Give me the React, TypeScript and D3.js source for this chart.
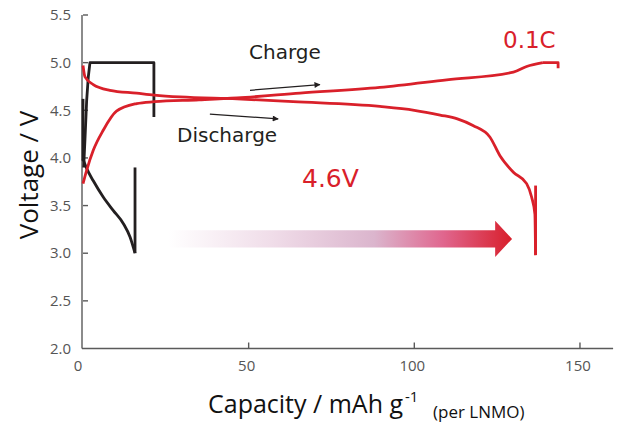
import React from "react";
import * as d3 from "d3";

// capacity (mAh/g) , voltage (V)
const blackRest = [[0, 4.62], [0, 3.97]];
const blackCharge = [[0.2, 3.9], [0.6, 4.2], [1.1, 4.6], [1.6, 4.85], [2.1, 5.0], [21.4, 5.0], [21.4, 4.43]];
const blackDischarge = [[0, 3.99], [1.1, 3.89], [3.1, 3.76], [6.1, 3.59], [9.1, 3.45], [12.2, 3.31], [14.2, 3.17], [15.7, 3.0]];
const blackDischargeEnd = [[15.7, 3.0], [15.7, 3.9]];

const redCharge = [[0, 3.73], [1.1, 3.87], [3.1, 4.08], [6.1, 4.29], [10.1, 4.49], [16.2, 4.57], [21.5, 4.59], [35, 4.61],
  [46.5, 4.63], [65.5, 4.68], [89.6, 4.74], [109.8, 4.82], [129.9, 4.9], [133.9, 4.96], [138.8, 5.0]];
const redChargeEnd = [[138.8, 5.0], [143.4, 5.0], [143.4, 4.94]];
const redDischarge = [[0, 4.97], [0.6, 4.85], [3.1, 4.77], [8.1, 4.71], [16.2, 4.68], [21.5, 4.66], [29.3, 4.64], [46.5, 4.62],
  [63.4, 4.59], [89.6, 4.54], [100, 4.5], [107.8, 4.45], [113, 4.41], [117.7, 4.34], [122.8, 4.22], [125.9, 4.02],
  [129.9, 3.85], [133.9, 3.73], [135.4, 3.59], [136.4, 3.41], [136.6, 2.98]];
const redDischargeEnd = [[136.6, 2.98], [136.6, 3.71]];

const xTicks = [0, 50, 100, 150];
const yTicks = [2.0, 2.5, 3.0, 3.5, 4.0, 4.5, 5.0, 5.5];

// arrow annotations in data units
const chargeArrow = [[50.4, 4.71], [71.5, 4.77]];
const dischargeArrow = [[38.3, 4.46], [58.9, 4.41]];
const bigArrow = { x0: 25.7, x1: 124.4, tip: 129.5, y: 3.15, shaft: 0.09, head: 0.19 };

const W = 624, H = 426;
const x = d3.scaleLinear().domain([0, 160]).range([83, 613.1]);
const y = d3.scaleLinear().domain([2, 5.5]).range([348.5, 15]);

const smooth = d3.line<number[]>().x(d => x(d[0])).y(d => y(d[1])).curve(d3.curveMonotoneX);
const straight = d3.line<number[]>().x(d => x(d[0])).y(d => y(d[1]));

const RED = "#d9202a";
const BLACK = "#231f20";
const AXIS = "#5a5a5a";
const LABEL = "Open Sans";

export default function App() {
  const a = bigArrow;
  const arrowPts = [
    [a.x0, a.y + a.shaft], [a.x1, a.y + a.shaft], [a.x1, a.y + a.head], [a.tip, a.y],
    [a.x1, a.y - a.head], [a.x1, a.y - a.shaft], [a.x0, a.y - a.shaft]
  ].map(p => `${x(p[0])},${y(p[1])}`).join(" ");

  return (
    <svg width={W} height={H} style={{ position: "absolute", left: 0, top: 0, background: "#fff" }}>
      <defs>
        <linearGradient id="bigGrad" gradientUnits="userSpaceOnUse" x1={x(a.x0)} x2={x(a.tip)} y1={0} y2={0}>
          <stop offset="0" stopColor="#ffffff" />
          <stop offset="0.3" stopColor="#f0dde9" />
          <stop offset="0.6" stopColor="#dbb5cd" />
          <stop offset="0.8" stopColor="#e0668e" />
          <stop offset="1" stopColor="#d81f2b" />
        </linearGradient>
        <marker id="head" viewBox="0 0 10 10" refX="9" refY="5" markerWidth="8" markerHeight="6" orient="auto" markerUnits="userSpaceOnUse">
          <path d="M0,0 L10,5 L0,10 Z" fill={BLACK} />
        </marker>
      </defs>

      {/* axes */}
      <line x1={x(0) - 1} x2={x(160)} y1={y(2)} y2={y(2)} stroke={AXIS} strokeWidth={1.4} />
      <line x1={x(0) - 1} x2={x(0) - 1} y1={y(2)} y2={y(5.5)} stroke={AXIS} strokeWidth={1.4} />
      {yTicks.filter(t => t > 2).map(t => (
        <line key={"yt" + t} x1={x(0)} x2={x(0) + 5} y1={y(t)} y2={y(t)} stroke={AXIS} strokeWidth={1.4} />
      ))}
      {yTicks.map(t => (
        <text key={"yl" + t} x={71} y={y(t)} dy="0.35em" textAnchor="end" fontFamily={LABEL} fontSize={15} fill="#555">
          {t.toFixed(1)}
        </text>
      ))}
      {xTicks.filter(t => t > 0).map(t => (
        <line key={"xt" + t} x1={x(t)} x2={x(t)} y1={y(2)} y2={y(2) - 6} stroke={AXIS} strokeWidth={1.4} />
      ))}
      {xTicks.map(t => (
        <text key={"xl" + t} x={x(t) - (t === 0 ? 5 : 2)} y={371} textAnchor="middle" fontFamily={LABEL} fontSize={15} fill="#555">
          {t}
        </text>
      ))}

      {/* axis titles */}
      <text transform="translate(38,175) rotate(-90)" textAnchor="middle" fontFamily={LABEL} fontSize={26} fill="#111">
        Voltage / V
      </text>
      <text x={208} y={413} fontFamily={LABEL} fontSize={25} fill="#111">Capacity / mAh g</text>
      <text x={405} y={402} fontFamily={LABEL} fontSize={15} fill="#111">-1</text>
      <text x={433} y={418} fontFamily={LABEL} fontSize={17} fill="#111">(per LNMO)</text>

      {/* gradient arrow */}
      <polygon points={arrowPts} fill="url(#bigGrad)" />

      {/* black curves */}
      <g fill="none" stroke={BLACK} strokeWidth={2.8} strokeLinejoin="round">
        <path d={straight(blackRest)!} />
        <path d={straight(blackCharge)!} />
        <path d={smooth(blackDischarge)!} />
        <path d={straight(blackDischargeEnd)!} />
      </g>

      {/* red curves */}
      <g fill="none" stroke={RED} strokeWidth={2.8} strokeLinejoin="round">
        <path d={smooth(redCharge)!} />
        <path d={straight(redChargeEnd)!} />
        <path d={smooth(redDischarge)!} />
        <path d={straight(redDischargeEnd)!} />
      </g>

      {/* annotations */}
      <line x1={x(chargeArrow[0][0])} y1={y(chargeArrow[0][1])} x2={x(chargeArrow[1][0])} y2={y(chargeArrow[1][1])}
        stroke={BLACK} strokeWidth={1.3} markerEnd="url(#head)" />
      <line x1={x(dischargeArrow[0][0])} y1={y(dischargeArrow[0][1])} x2={x(dischargeArrow[1][0])} y2={y(dischargeArrow[1][1])}
        stroke={BLACK} strokeWidth={1.3} markerEnd="url(#head)" />
      <text x={249} y={59} fontFamily="DejaVu Sans" fontSize={20} fill={BLACK}>Charge</text>
      <text x={177} y={142} fontFamily="DejaVu Sans" fontSize={20} fill={BLACK}>Discharge</text>
      <text x={503} y={48} fontFamily="DejaVu Sans" fontSize={23} fill={RED}>0.1C</text>
      <text x={302} y={187} fontFamily="DejaVu Sans" fontSize={25} fill={RED}>4.6V</text>
    </svg>
  );
}
